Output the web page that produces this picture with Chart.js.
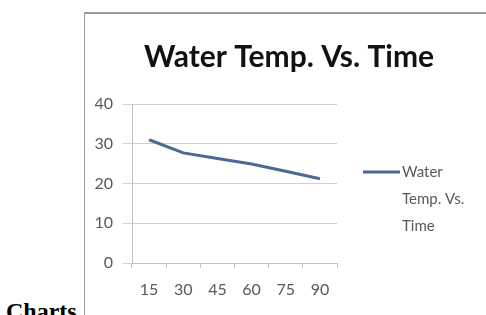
<!DOCTYPE html>
<html>
<head>
<meta charset="utf-8">
<script src="https://cdn.jsdelivr.net/npm/chart.js@4.4.1/dist/chart.umd.min.js"></script>
<style>
  body { margin: 0; background: #fff; width: 486px; height: 315px; overflow: hidden; position: relative; }
  #caption { position: absolute; left: 6px; top: 298px; line-height: 24px; font: bold 24px "Liberation Serif", "Times New Roman", serif; color: #000; }
  #box { position: absolute; left: 84px; top: 12px; width: 410px; height: 310px; border-left: 1px solid #9a9a9a; border-top: 2px solid #9a9a9a; background: #fff; }
  #wrap { position: absolute; left: 2px; top: 1px; width: 400px; height: 302px; }
</style>
</head>
<body>
<div id="caption">Charts</div>
<div id="box"><div id="wrap"><canvas id="chart"></canvas></div></div>
<script>
const timeLabels = ["15", "30", "45", "60", "75", "90"];
const waterTemp = [31, 27.7, 26.3, 24.9, 23.1, 21.2];
const seriesName = "Water Temp. Vs. Time";
const legendLines = ["Water", "Temp. Vs.", "Time"];

// title centred over the whole box, not just the plot area
const boxTitle = {
  id: "boxTitle",
  afterDraw(chart) {
    const ctx = chart.ctx;
    ctx.save();
    ctx.fillStyle = "#111";
    ctx.font = "bold 30px Lato";
    ctx.textAlign = "center";
    ctx.textBaseline = "alphabetic";
    ctx.fillText(seriesName, 202, 52);
    ctx.restore();
  }
};

// legend drawn beside the plot, wrapped over three lines like the original
const sideLegend = {
  id: "sideLegend",
  afterDraw(chart) {
    const ctx = chart.ctx;
    const ds = chart.data.datasets[0];
    const area = chart.chartArea;
    const x0 = area.right + 26;
    const y0 = area.top + 68;
    ctx.save();
    ctx.strokeStyle = ds.borderColor;
    ctx.lineWidth = ds.borderWidth;
    ctx.beginPath();
    ctx.moveTo(x0, y0);
    ctx.lineTo(x0 + 37, y0);
    ctx.stroke();
    ctx.fillStyle = "#595959";
    ctx.font = "15px Lato";
    ctx.textBaseline = "middle";
    legendLines.forEach((t, i) => ctx.fillText(t, x0 + 39, y0 + i * 27));
    ctx.restore();
  }
};

new Chart(document.getElementById("chart"), {
  type: "line",
  data: {
    labels: timeLabels,
    datasets: [{
      label: seriesName,
      data: waterTemp,
      borderColor: "#4a6a94",
      borderWidth: 3,
      pointRadius: 0,
      tension: 0,
      fill: false
    }]
  },
  options: {
    responsive: true,
    maintainAspectRatio: false,
    animation: false,
    layout: { padding: { left: 0, right: 150, top: 89, bottom: 0 } },
    plugins: {
      legend: { display: false },
      tooltip: { enabled: false },
      title: { display: false }
    },
    scales: {
      x: {
        offset: true,
        grid: { display: true, drawOnChartArea: false, offset: true, tickLength: 5, color: "#bfbfbf" },
        border: { color: "#bfbfbf" },
        ticks: { color: "#595959", font: { family: "Lato", size: 16 }, padding: 12, maxRotation: 0 },
        afterFit(scale) { scale.height = 54; }
      },
      y: {
        min: 0,
        max: 40,
        ticks: { stepSize: 10, color: "#595959", font: { family: "Lato", size: 16 }, padding: 10 },
        grid: { color: "#d0d0d0", tickLength: 9 },
        border: { color: "#bfbfbf" },
        afterFit(scale) { scale.width = 45; }
      }
    }
  },
  plugins: [boxTitle, sideLegend]
});
</script>
</body>
</html>
